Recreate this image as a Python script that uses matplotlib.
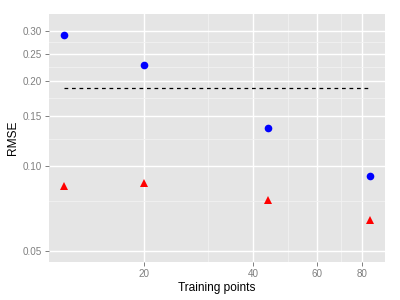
import numpy as np
import matplotlib.pyplot as plt
from matplotlib.ticker import FixedLocator, NullFormatter

plt.rcParams['font.family'] = ['Liberation Sans', 'DejaVu Sans']

# data
train_pts = [12, 20, 44, 84]
rmse_a = [0.291, 0.228, 0.136, 0.092]
rmse_b = [0.0847, 0.087, 0.076, 0.0645]
baseline = 0.189

x_major = [20, 40, 60, 80]
x_minor = [30, 50, 70]
y_major = [0.05, 0.10, 0.15, 0.20, 0.25, 0.30]
y_minor = [0.075, 0.125, 0.175, 0.225, 0.275]

fig = plt.figure(figsize=(4, 3), dpi=100)
ax = fig.add_axes([49 / 400, 38 / 300, 336 / 400, 248 / 300])
ax.set_facecolor('#E5E5E5')
ax.set_xscale('log')
ax.set_yscale('log')
ax.set_xlim(10.9, 92.6)
ax.set_ylim(0.0457, 0.346)

ax.xaxis.set_major_locator(FixedLocator(x_major))
ax.xaxis.set_minor_locator(FixedLocator(x_minor))
ax.yaxis.set_major_locator(FixedLocator(y_major))
ax.yaxis.set_minor_locator(FixedLocator(y_minor))
ax.set_xticklabels([str(v) for v in x_major])
ax.set_yticklabels(['%.2f' % v for v in y_major])
ax.xaxis.set_minor_formatter(NullFormatter())
ax.yaxis.set_minor_formatter(NullFormatter())

ax.grid(which='major', color='white', linewidth=1.0)
ax.grid(which='minor', color='#F2F2F2', linewidth=0.6)
ax.set_axisbelow(True)
for s in ax.spines.values():
    s.set_visible(False)
ax.tick_params(which='major', length=3, width=0.7, color='#7F7F7F',
               labelcolor='#7F7F7F', labelsize=7.1, pad=2)
ax.tick_params(which='minor', length=0)

ax.hlines(baseline, train_pts[0], train_pts[-1], colors='black',
          linestyles=(0, (3, 3)), linewidth=0.9)
ax.plot(train_pts, rmse_a, 'o', color='blue', markersize=5.5, markeredgewidth=0)
ax.plot(train_pts, rmse_b, '^', color='red', markersize=6.2, markeredgewidth=0)

ax.set_xlabel('Training points', fontsize=8.6, labelpad=2)
ax.set_ylabel('RMSE', fontsize=8.6, labelpad=2.5)

fig.savefig('out.png', dpi=100)
